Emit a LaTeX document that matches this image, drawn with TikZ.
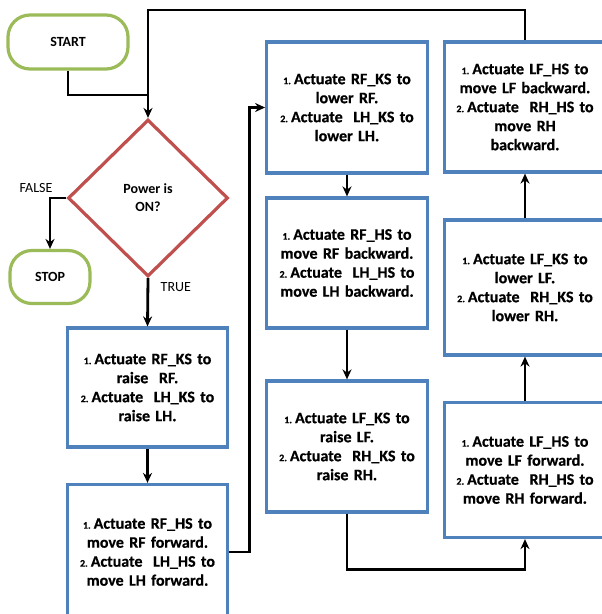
\documentclass[tikz,border=0pt]{standalone}
\usepackage{fontspec}
\setmainfont{Carlito}
\newfontfamily\heavyfont{Carlito}[BoldFeatures={FakeBold=0.6}]
\usetikzlibrary{arrows.meta, shapes.geometric}
\definecolor{termgreen}{RGB}{155,187,89}
\definecolor{decred}{RGB}{192,80,77}
\definecolor{boxblue}{RGB}{79,129,189}
\newcommand{\stepno}[1]{{\fontsize{10}{10}\selectfont #1.}\hspace{3pt}\ignorespaces}

\begin{document}
\begin{tikzpicture}[
  x=1pt, y=1pt, line width=2.8pt, >={Stealth[length=10pt, width=9pt]},
  term/.style={draw=termgreen, line width=3.2pt, rounded corners=22pt,
    font=\fontsize{14}{16}\selectfont\bfseries},
  dec/.style={draw=decred, diamond, inner sep=0pt, line width=3.2pt,
    minimum width=160pt, minimum height=157pt, align=center,
    font=\fontsize{14}{18}\selectfont\bfseries},
  act/.style={draw=boxblue, line width=3.2pt, minimum width=160pt,
    text width=154pt, align=center,
    font=\fontsize{16}{19}\selectfont\heavyfont\bfseries},
  lbl/.style={font=\fontsize{14}{16}\selectfont}
]
\useasboundingbox (0,0) rectangle (602,-614);

\node[term, minimum width=120pt, minimum height=54pt] (start) at (68,-42) {START};
\node[dec] (pwr) at (148,-198) {Power is\\ON?};
\node[term, minimum width=80pt, minimum height=53pt] (stop) at (50,-277) {STOP};

% left column
\node[act, minimum height=119pt] (act1) at (147.5,-387.5)
  {\stepno{1} Actuate RF\_KS to\\raise~ RF.\\\stepno{2} Actuate~ LH\_KS to\\raise LH.};
\node[act, minimum height=135pt] (act2) at (147.5,-552)
  {\stepno{1} Actuate RF\_HS to\\move RF forward.\\\stepno{2} Actuate~ LH\_HS to\\move LH forward.};

% middle column
\node[act, minimum height=131pt] (act3) at (347,-107.5)
  {\stepno{1} Actuate RF\_KS to\\lower RF.\\\stepno{2} Actuate~ LH\_KS to\\lower LH.};
\node[act, minimum height=130pt] (act4) at (347,-263)
  {\stepno{1} Actuate RF\_HS to\\move RF backward.\\\stepno{2} Actuate~ LH\_HS to\\move LH backward.};
\node[act, minimum height=131pt] (act5) at (347,-446.5)
  {\stepno{1} Actuate LF\_KS to\\raise LF.\\\stepno{2} Actuate~ RH\_KS to\\raise RH.};

% right column
\node[act, minimum height=135pt] (act6) at (525,-470)
  {\stepno{1} Actuate LF\_HS to\\move LF forward.\\\stepno{2} Actuate~ RH\_HS to\\move RH forward.};
\node[act, minimum height=135pt] (act7) at (525,-287.5)
  {\stepno{1} Actuate LF\_KS to\\lower LF.\\\stepno{2} Actuate~ RH\_KS to\\lower RH.};
\node[act, minimum height=130pt] (act8) at (525,-107)
  {\stepno{1} Actuate LF\_HS to\\move LF backward.\\\stepno{2} Actuate~ RH\_HS to\\move RH\\backward.};

\coordinate (top)  at (148,-10);
\coordinate (join) at (148,-95);

\draw (start.south) |- (join);
\draw[->] (act8.north) |- (top) -- (pwr.north);
\draw[->] (pwr.west) -| (stop.north);
\draw[->] (pwr.south) -- (act1.north);
\draw[->] (act1) -- (act2);
\draw[->] (act2.east) -- ++(20,0) |- (act3.west);
\draw[->] (act3) -- (act4);
\draw[->] (act4) -- (act5);
\draw[->] (act5.south) -- ++(0,-56) -| (act6.south);
\draw[->] (act6) -- (act7);
\draw[->] (act7) -- (act8);

\node[lbl] (false) at (36,-188) {FALSE};
\node[lbl, anchor=west] (true) at (156,-287) {TRUE};
\end{tikzpicture}
\end{document}
